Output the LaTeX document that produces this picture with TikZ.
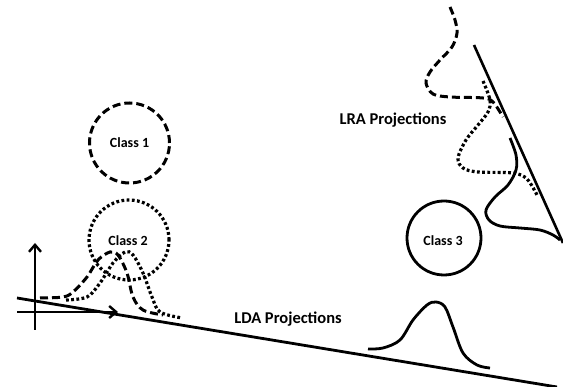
\documentclass[tikz,border=0pt]{standalone}
\usepackage{fontspec}
\setmainfont{Carlito}
\usetikzlibrary{arrows.meta}
\tikzset{
  lw/.style={line width=2.8pt},
  dsh/.style={line width=3pt, dash pattern=on 8pt off 4pt},
  dts/.style={line width=3.2pt, dash pattern=on 2.8pt off 2.4pt},
  sld/.style={lw},
  cls/.style={font=\bfseries\fontsize{14}{16}\selectfont},
  prj/.style={font=\bfseries\fontsize{16.5}{19}\selectfont},
  axarrow/.style={line width=2.6pt, -{Straight Barb[length=7pt,width=12pt,line width=2.4pt]}},
}
\begin{document}
\begin{tikzpicture}[x=1pt,y=-1pt]
\useasboundingbox (0,0) rectangle (563,387);
% circles
\node[circle, draw, dsh, minimum size=80pt, inner sep=0] (c1) at (129.5,143) {};
\node[circle, draw, dts, minimum size=80pt, inner sep=0] (c2) at (129,240) {};
\node[circle, draw, sld, minimum size=74pt, inner sep=0] (c3) at (444,238) {};
% axes
\coordinate (vb) at (35,330);
\coordinate (vt) at (35,243);
\coordinate (hb) at (17,312);
\coordinate (ht) at (118,312);
\draw[axarrow] (vb) -- (vt);
\draw[axarrow] (hb) -- (ht);
% LDA line
\coordinate (l1) at (17,298);
\coordinate (l2) at (557,387);
\draw[line width=2.8pt] (l1) -- (l2);
% LRA line
\coordinate (r1) at (474,45);
\coordinate (r2) at (563,243);
\draw[line width=2.6pt] (r1) -- (r2);
% LDA gaussians
\draw[dsh] plot[smooth, tension=0.55] coordinates {(40,298) (63,297) (73,292) (87,277) (98,260) (110,252) (118,255) (127,273) (133,297) (143,310) (163,315)};
\draw[dts] plot[smooth, tension=0.55] coordinates {(66,300) (87,297) (100,283) (113,263) (125,252) (133,255) (143,273) (152,297) (160,312) (182,318)};
\draw[sld] plot[smooth, tension=0.55] coordinates {(368,349) (383,348) (400,340) (413,320) (427,305) (436,302) (445,307) (453,327) (463,353) (477,365) (490,368)};
% LRA gaussians
\draw[dsh] plot[smooth, tension=0.55] coordinates {(450,7) (455,20) (457,33) (452,47) (440,60) (430,72) (426,83) (433,94) (450,97) (483,98) (493,102) (503,117)};
\draw[dts] plot[smooth, tension=0.55] coordinates {(483,81) (490,100) (488,112) (478,125) (466,140) (458,158) (463,168) (478,172) (513,173) (527,179) (537,195)};
\draw[sld] plot[smooth, tension=0.55] coordinates {(510,138) (516,155) (516,170) (508,185) (495,197) (486,210) (489,220) (500,226) (520,228) (540,230) (553,235) (560,240)};
% labels
\node[cls] (t1) at (129.5,143) {Class 1};
\node[cls] (t2) at (128,241) {Class 2};
\node[cls] (t3) at (443,241) {Class 3};
\node[prj] (lra) at (393,120) {LRA Projections};
\node[prj] (lda) at (288,319) {LDA Projections};
\end{tikzpicture}
\end{document}
